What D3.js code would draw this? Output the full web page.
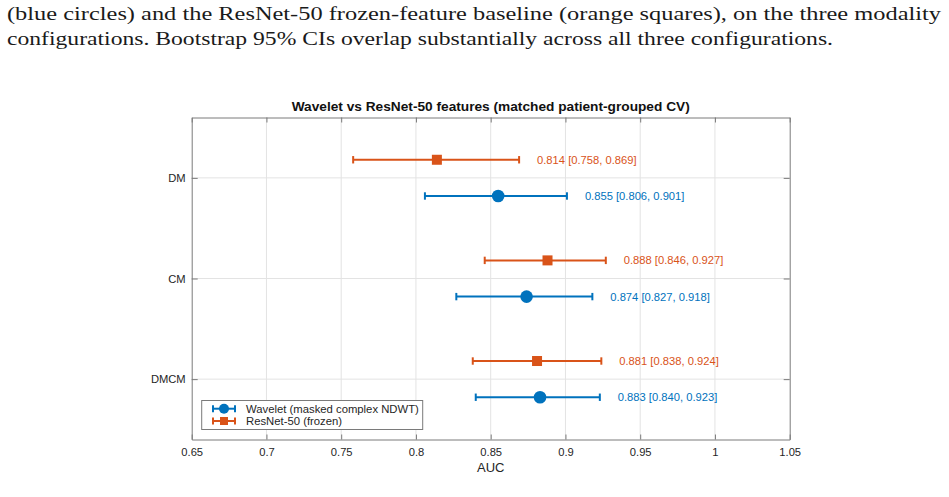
<!DOCTYPE html>
<html>
<head>
<meta charset="utf-8">
<script src="https://cdn.jsdelivr.net/npm/d3@7"></script>
<style>
  body { margin: 0; background: #fff; }
  svg { display: block; }
</style>
</head>
<body>
<svg width="949" height="497"></svg>
<script>
// categories (top to bottom) and values
var configs = ["DM", "CM", "DMCM"];
var waveletAuc = [0.855, 0.874, 0.883];
var waveletLo  = [0.806, 0.827, 0.840];
var waveletHi  = [0.901, 0.918, 0.923];
var resnetAuc  = [0.814, 0.888, 0.881];
var resnetLo   = [0.758, 0.846, 0.838];
var resnetHi   = [0.869, 0.927, 0.924];
var xTicks = [0.65, 0.7, 0.75, 0.8, 0.85, 0.9, 0.95, 1, 1.05];
var seriesNames = ["Wavelet (masked complex NDWT)", "ResNet-50 (frozen)"];

var blue = "#0072BD", orange = "#D95319";

var svg = d3.select("svg");

// caption text from the paper above the figure
var caption = svg.append("g")
    .attr("font-family", "'Liberation Serif', 'DejaVu Serif', serif")
    .attr("font-size", 18.5)
    .attr("fill", "#1a1a1a");
caption.append("text").attr("x", 7).attr("y", 20)
    .attr("textLength", 934).attr("lengthAdjust", "spacingAndGlyphs")
    .text("(blue circles) and the ResNet-50 frozen-feature baseline (orange squares), on the three modality");
caption.append("text").attr("x", 7).attr("y", 44.5)
    .attr("textLength", 826).attr("lengthAdjust", "spacingAndGlyphs")
    .text("configurations. Bootstrap 95% CIs overlap substantially across all three configurations.");

var pLeft = 191.7, pRight = 789.7, pTop = 117.5, pBottom = 439.5;

var x = d3.scaleLinear().domain([0.65, 1.05]).range([pLeft, pRight]);
// categories at 1,2,3 with limits 0.4..3.6
var y = d3.scaleLinear().domain([0.4, 3.6]).range([pTop, pBottom]);
var off = 0.18;

var g = svg.append("g")
    .attr("font-family", "'Liberation Sans', Arial, sans-serif");

// grid
g.append("g").selectAll("line")
    .data(xTicks.slice(1, -1))
    .enter().append("line")
    .attr("x1", function(d) { return x(d); })
    .attr("x2", function(d) { return x(d); })
    .attr("y1", pTop).attr("y2", pBottom)
    .attr("stroke", "#e3e3e3").attr("stroke-width", 1);
g.append("g").selectAll("line")
    .data(configs)
    .enter().append("line")
    .attr("x1", pLeft).attr("x2", pRight)
    .attr("y1", function(d, i) { return y(i + 1); })
    .attr("y2", function(d, i) { return y(i + 1); })
    .attr("stroke", "#e3e3e3").attr("stroke-width", 1);

// axes (ticks pointing inward like matlab)
var axColor = "#7a7a7a";
var xb = g.append("g")
    .attr("transform", "translate(0," + pBottom + ")")
    .call(d3.axisBottom(x).tickValues(xTicks).tickSizeInner(-5).tickSizeOuter(0).tickPadding(9)
        .tickFormat(function(d) { return d3.format("")(+d.toFixed(2)); }));
var xt = g.append("g")
    .attr("transform", "translate(0," + pTop + ")")
    .call(d3.axisTop(x).tickValues(xTicks).tickSizeInner(-5).tickSizeOuter(0).tickFormat(""));
var yl = g.append("g")
    .attr("transform", "translate(" + pLeft + ",0)")
    .call(d3.axisLeft(y).tickValues([1, 2, 3]).tickSizeInner(-6).tickSizeOuter(0).tickPadding(6)
        .tickFormat(function(d) { return configs[d - 1]; }));
var yr = g.append("g")
    .attr("transform", "translate(" + pRight + ",0)")
    .call(d3.axisRight(y).tickValues([1, 2, 3]).tickSizeInner(-6).tickSizeOuter(0).tickFormat(""));

[xb, xt, yl, yr].forEach(function(a) {
    a.selectAll("path").attr("stroke", axColor);
    a.selectAll("line").attr("stroke", axColor);
    a.selectAll("text").attr("fill", "#262626").attr("font-size", 11.2)
        .attr("font-family", "'Liberation Sans', Arial, sans-serif");
});

// title and x label
g.append("text")
    .attr("x", (pLeft + pRight) / 2).attr("y", 111)
    .attr("text-anchor", "middle")
    .attr("font-size", 13.7).attr("font-weight", "bold").attr("fill", "#111")
    .text("Wavelet vs ResNet-50 features (matched patient-grouped CV)");
g.append("text")
    .attr("x", (pLeft + pRight) / 2).attr("y", 471.5)
    .attr("text-anchor", "middle")
    .attr("font-size", 13).attr("fill", "#262626")
    .text("AUC");

// build series rows
var rows = [];
configs.forEach(function(c, i) {
    rows.push({cat: i + 1, dy: -off, v: resnetAuc[i], lo: resnetLo[i], hi: resnetHi[i], color: orange, shape: "square"});
    rows.push({cat: i + 1, dy: off, v: waveletAuc[i], lo: waveletLo[i], hi: waveletHi[i], color: blue, shape: "circle"});
});

var bars = g.append("g").selectAll("g")
    .data(rows)
    .enter().append("g")
    .attr("transform", function(d) { return "translate(0," + y(d.cat + d.dy) + ")"; });

bars.append("line")
    .attr("x1", function(d) { return x(d.lo); })
    .attr("x2", function(d) { return x(d.hi); })
    .attr("stroke", function(d) { return d.color; })
    .attr("stroke-width", 2);
bars.append("line")
    .attr("x1", function(d) { return x(d.lo); })
    .attr("x2", function(d) { return x(d.lo); })
    .attr("y1", -3.7).attr("y2", 3.7)
    .attr("stroke", function(d) { return d.color; })
    .attr("stroke-width", 2);
bars.append("line")
    .attr("x1", function(d) { return x(d.hi); })
    .attr("x2", function(d) { return x(d.hi); })
    .attr("y1", -3.7).attr("y2", 3.7)
    .attr("stroke", function(d) { return d.color; })
    .attr("stroke-width", 2);

bars.filter(function(d) { return d.shape == "circle"; })
    .append("circle")
    .attr("cx", function(d) { return x(d.v); })
    .attr("r", 6.3)
    .attr("fill", blue);
bars.filter(function(d) { return d.shape == "square"; })
    .append("rect")
    .attr("x", function(d) { return x(d.v) - 5; })
    .attr("y", -5)
    .attr("width", 10).attr("height", 10)
    .attr("fill", orange);

bars.append("text")
    .attr("x", function(d) { return x(d.hi + 0.012); })
    .attr("dy", "0.35em")
    .attr("font-size", 11.2)
    .attr("fill", function(d) { return d.color; })
    .text(function(d) {
        return d3.format(".3f")(d.v) + " [" + d3.format(".3f")(d.lo) + ", " + d3.format(".3f")(d.hi) + "]";
    });

// legend
var legend = g.append("g");
legend.append("rect")
    .attr("x", 201.7).attr("y", 400.5)
    .attr("width", 221).attr("height", 29)
    .attr("fill", "#fff").attr("stroke", "#7a7a7a").attr("stroke-width", 1);

var items = legend.selectAll("g.item")
    .data([{name: seriesNames[0], color: blue, shape: "circle"}, {name: seriesNames[1], color: orange, shape: "square"}])
    .enter().append("g")
    .attr("class", "item")
    .attr("transform", function(d, i) { return "translate(0," + (408.7 + i * 12.3) + ")"; });

items.append("line").attr("x1", 213).attr("x2", 235)
    .attr("stroke", function(d) { return d.color; }).attr("stroke-width", 2);
items.append("line").attr("x1", 213).attr("x2", 213).attr("y1", -3.5).attr("y2", 3.5)
    .attr("stroke", function(d) { return d.color; }).attr("stroke-width", 2);
items.append("line").attr("x1", 235).attr("x2", 235).attr("y1", -3.5).attr("y2", 3.5)
    .attr("stroke", function(d) { return d.color; }).attr("stroke-width", 2);
items.filter(function(d) { return d.shape == "circle"; })
    .append("circle").attr("cx", 224).attr("r", 5).attr("fill", blue);
items.filter(function(d) { return d.shape == "square"; })
    .append("rect").attr("x", 220).attr("y", -4).attr("width", 8).attr("height", 8).attr("fill", orange);
items.append("text")
    .attr("x", 246).attr("dy", "0.35em")
    .attr("font-size", 11.3).attr("fill", "#262626")
    .text(function(d) { return d.name; });
</script>
</body>
</html>
